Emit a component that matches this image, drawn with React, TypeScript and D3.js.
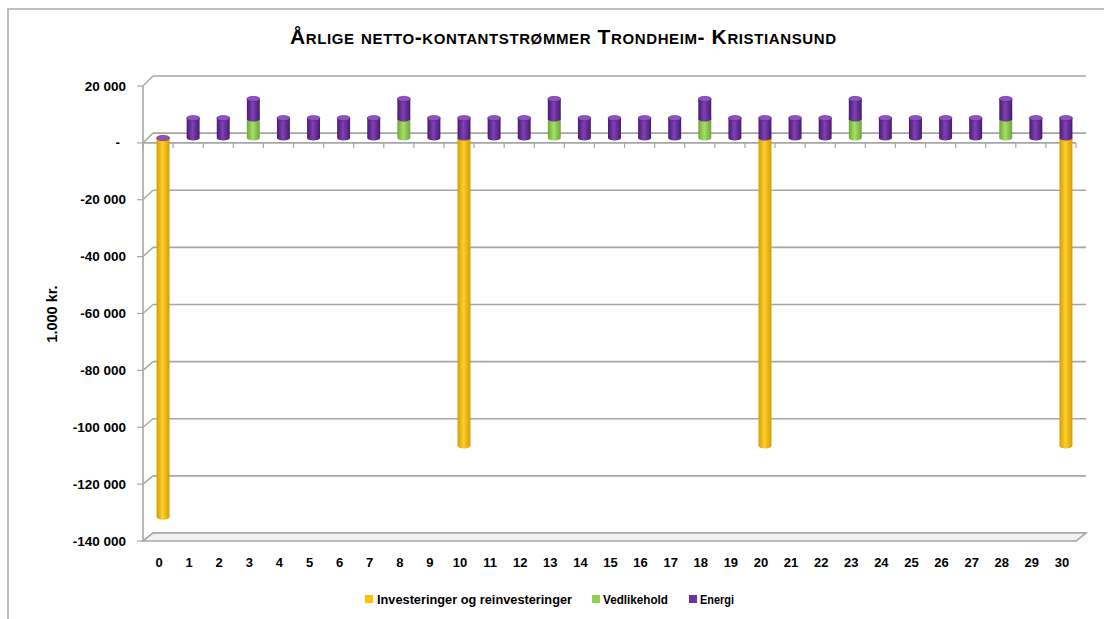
import React from "react";
import * as d3 from "d3";

const years: number[] = d3.range(0, 31);
const investeringer: number[] = [
  -133000, 0, 0, 0, 0, 0, 0, 0, 0, 0,
  -108000, 0, 0, 0, 0, 0, 0, 0, 0, 0,
  -108000, 0, 0, 0, 0, 0, 0, 0, 0, 0,
  -108000,
];
const vedlikehold: number[] = [
  0, 0, 0, 6700, 0, 0, 0, 0, 6700, 0,
  0, 0, 0, 6700, 0, 0, 0, 0, 6700, 0,
  0, 0, 0, 6700, 0, 0, 0, 0, 6700, 0,
  0,
];
const energi: number[] = [
  0, 7000, 7000, 7000, 7000, 7000, 7000, 7000, 7000, 7000,
  7000, 7000, 7000, 7000, 7000, 7000, 7000, 7000, 7000, 7000,
  7000, 7000, 7000, 7000, 7000, 7000, 7000, 7000, 7000, 7000,
  7000,
];
const yTicks: number[] = [20000, 0, -20000, -40000, -60000, -80000, -100000, -120000, -140000];
const seriesNames: string[] = ["Investeringer og reinvesteringer", "Vedlikehold", "Energi"];

const FONT = "'Liberation Sans', Arial, sans-serif";

const colors = [
  { id: "gy", edge: "#D49E00", mid: "#FFCF2E", cap: "#FFD84D", legend: "#FFC000" },
  { id: "gg", edge: "#6EA53A", mid: "#A6E067", cap: "#B3E67A", legend: "#92D050" },
  { id: "gp", edge: "#4A1A70", mid: "#8040B5", cap: "#8E52C2", legend: "#7030A0" },
];

function fmt(v: number): string {
  if (v === 0) return "-";
  const s = Math.abs(v).toString().replace(/\B(?=(\d{3})+(?!\d))/g, " ");
  return (v < 0 ? "-" : "") + s;
}

export default function App() {
  const W = 1104, H = 619;
  const xFront = d3.scaleBand<number>().domain(years).range([143, 1076]);
  const xBack = d3.scaleBand<number>().domain(years).range([153, 1086]);
  const xMid = d3.scaleBand<number>().domain(years).range([148, 1081]);
  const yFront = d3.scaleLinear().domain([-140000, 20000]).range([541, 86]);
  const yBack = d3.scaleLinear().domain([-140000, 20000]).range([533, 76]);
  const yMid = d3.scaleLinear().domain([-140000, 20000]).range([537, 81]);

  const bw = xMid.bandwidth() * 0.43;
  const rx = bw / 2;
  const ry = 2.6;
  const grid = "#A6A6A6";

  const cylinders: JSX.Element[] = [];
  years.forEach((yr, i) => {
    const cx = (xMid(yr) as number) + xMid.bandwidth() / 2;
    const segs: { s: number; v0: number; v1: number }[] = [];
    if (investeringer[i] < 0) segs.push({ s: 0, v0: 0, v1: investeringer[i] });
    let acc = 0;
    const pos = [Math.max(0, investeringer[i]), vedlikehold[i], energi[i]];
    pos.forEach((v, s) => {
      if (v > 0) {
        segs.push({ s, v0: acc, v1: acc + v });
        acc += v;
      }
    });
    if (i === 0) segs.push({ s: 2, v0: 0, v1: 0 });
    segs.forEach((sg, k) => {
      const yA = yMid(sg.v0), yB = yMid(sg.v1);
      const top = Math.min(yA, yB), bot = Math.max(yA, yB);
      const c = colors[sg.s];
      const body = `M${cx - rx},${top} L${cx - rx},${bot} A${rx},${ry} 0 0 0 ${cx + rx},${bot} L${cx + rx},${top} Z`;
      cylinders.push(
        <g key={`c${i}-${k}`}>
          {bot > top && <path d={body} fill={`url(#${c.id})`} />}
          <ellipse cx={cx} cy={top} rx={rx} ry={ry} fill={c.cap} stroke={c.edge} strokeWidth={0.5} />
        </g>
      );
    });
  });

  const zeroF = yFront(0);

  return (
    <svg width={W} height={H} style={{ position: "absolute", left: 0, top: 0, background: "#fff" }}>
      <defs>
        {colors.map((c) => (
          <linearGradient key={c.id} id={c.id} x1="0" x2="1" y1="0" y2="0">
            <stop offset="0%" stopColor={c.edge} />
            <stop offset="45%" stopColor={c.mid} />
            <stop offset="100%" stopColor={c.edge} />
          </linearGradient>
        ))}
      </defs>
      <rect x={8} y={9} width={1200} height={700} fill="none" stroke="#BFBFBF" strokeWidth={2} />

      <text x={290} y={44} fontFamily={FONT} fontWeight="bold" fontSize={21}
        textLength={546} lengthAdjust="spacing"
        style={{ fontVariant: "small-caps" }} fill="#000">
        Årlige netto-kontantstrømmer Trondheim- Kristiansund
      </text>

      {yTicks.map((t) => (
        <g key={`g${t}`}>
          <line x1={xBack.range()[0]} x2={xBack.range()[1]} y1={yBack(t)} y2={yBack(t)} stroke={grid} strokeWidth={1.6} />
          <line x1={143} x2={153} y1={yFront(t)} y2={yBack(t)} stroke={grid} strokeWidth={1.4} />
          <line x1={137} x2={143} y1={yFront(t)} y2={yFront(t)} stroke={grid} strokeWidth={1.2} />
        </g>
      ))}
      <line x1={143} x2={143} y1={yFront(20000)} y2={yFront(-140000)} stroke={grid} strokeWidth={1.6} />
      <path d={`M143,${yFront(-140000)} L1076,${yFront(-140000)} L1086,${yBack(-140000)} L153,${yBack(-140000)} Z`}
        fill="#F2F2F2" stroke={grid} strokeWidth={1.6} />
      <line x1={143} x2={1076} y1={zeroF} y2={zeroF} stroke={grid} strokeWidth={1.6} />
      {years.concat([31]).map((yr, i) => {
        const x = 143 + i * xFront.step();
        return <line key={`t${i}`} x1={x} x2={x} y1={zeroF} y2={zeroF + 5} stroke={grid} strokeWidth={1.2} />;
      })}

      {cylinders}

      {yTicks.map((t) => (
        <text key={`yl${t}`} x={t === 0 ? 120 : 126} y={yFront(t) + 4.5} textAnchor="end" fontFamily={FONT}
          fontWeight="bold" fontSize={13.5} fill="#000">
          {fmt(t)}
        </text>
      ))}
      <text transform={`translate(57,314) rotate(-90)`} textAnchor="middle" fontFamily={FONT} fontWeight="bold"
        fontSize={14.5} fill="#000">
        1.000 kr.
      </text>

      {years.map((yr) => (
        <text key={`xl${yr}`} x={(xFront(yr) as number) + xFront.bandwidth() / 2 + 1} y={567} textAnchor="middle"
          fontFamily={FONT} fontWeight="bold" fontSize={13} fill="#000">
          {yr}
        </text>
      ))}

      {[
        { x: 365, tx: 377, len: 195 },
        { x: 592, tx: 603, len: 65 },
        { x: 689, tx: 700, len: 34 },
      ].map((l, i) => (
        <g key={`lg${i}`}>
          <rect x={l.x} y={595} width={8} height={8} fill={colors[i].legend} />
          <text x={l.tx} y={604} fontFamily={FONT} fontWeight="bold" fontSize={12.5} fill="#000"
            textLength={l.len} lengthAdjust="spacingAndGlyphs">
            {seriesNames[i]}
          </text>
        </g>
      ))}
    </svg>
  );
}
